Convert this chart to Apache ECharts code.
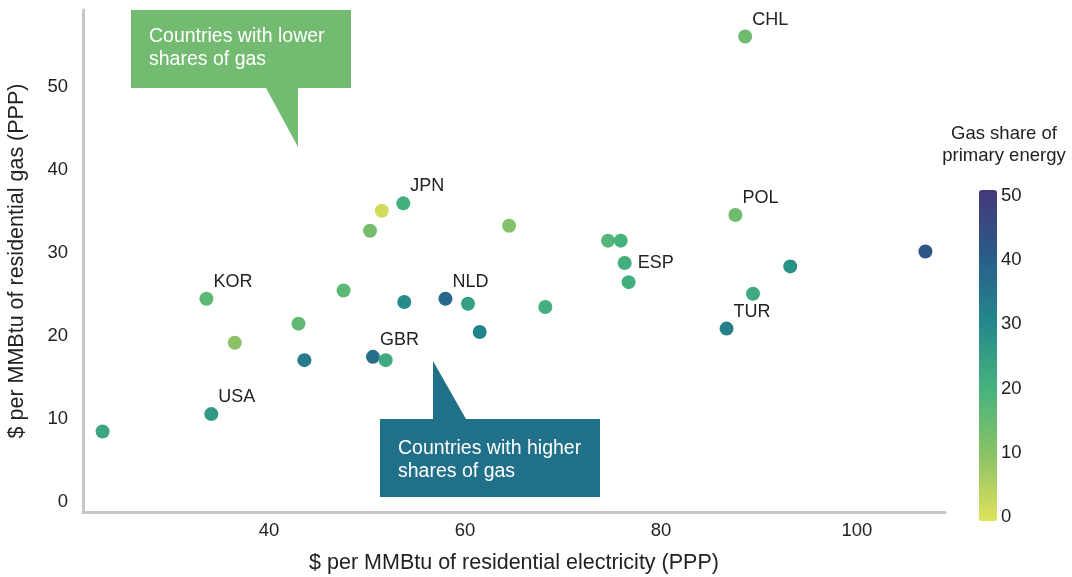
<!DOCTYPE html>
<html>
<head>
<meta charset="utf-8">
<script src="https://cdn.jsdelivr.net/npm/echarts@6/dist/echarts.min.js"></script>
<style>
  html, body { margin: 0; padding: 0; background: #fff; }
  #chart { width: 1072px; height: 577px; }
</style>
</head>
<body>
<div id="chart"></div>
<script>
// ---- Data ----
const countries = ['', 'USA', 'KOR', '', '', '', '', '', '', 'JPN', 'GBR', '', '', 'NLD', '', '', '', '', '', '', 'ESP', '', 'CHL', 'POL', 'TUR', '', '', ''];
const elecPrice = [23.0, 34.1, 33.6, 36.5, 43.0, 43.6, 47.6, 50.3, 51.5, 53.7, 50.6, 51.9, 53.8, 58.0, 60.3, 61.5, 64.5, 68.2, 74.6, 75.9, 76.3, 76.7, 88.6, 87.6, 86.7, 89.4, 93.2, 107.0];
const gasPrice  = [8.5, 10.6, 24.5, 19.2, 21.5, 17.1, 25.5, 32.7, 35.1, 36.0, 17.5, 17.1, 24.1, 24.5, 23.9, 20.5, 33.3, 23.5, 31.5, 31.5, 28.8, 26.5, 56.1, 34.6, 20.9, 25.1, 28.4, 30.2];
const gasShare  = [23, 26, 17, 10, 16, 33, 17, 13, 2, 21, 36, 22, 29, 37, 25, 31, 11, 21, 18, 20, 21, 21, 14, 14, 32, 22, 28, 42];
const xTicks = [40, 60, 80, 100];
const yTicks = [0, 10, 20, 30, 40, 50];
const shareTicks = [0, 10, 20, 30, 40, 50];

// ---- Presentation ----
const FONT = 'Liberation Sans, Arial, sans-serif';
const TXT = '#222222';
const AXIS = '#c8c8c8';
const palette = ['#e0e25a', '#8bc266', '#46b37c', '#23888b', '#295c8b', '#453878'];
const labelPlace = { ESP: 'side' };

const points = elecPrice.map((x, i) => [x, gasPrice[i], gasShare[i], countries[i]]);

const chart = echarts.init(document.getElementById('chart'), null, { renderer: 'canvas' });

chart.setOption({
  animation: false,
  backgroundColor: '#ffffff',
  textStyle: { fontFamily: FONT },
  grid: [
    { left: 83, top: 10, width: 862, height: 502, containLabel: false, outerBoundsMode: 'none' },
    { left: 979, top: 196, width: 18, height: 321, containLabel: false, outerBoundsMode: 'none' }
  ],
  xAxis: [
    {
      type: 'value', gridIndex: 0, min: 21, max: 109,
      name: '$ per MMBtu of residential electricity (PPP)',
      nameLocation: 'middle', nameGap: 40,
      nameTextStyle: { fontSize: 21.5, color: TXT, fontFamily: FONT },
      axisLine: { show: true, onZero: false, lineStyle: { color: AXIS, width: 3 } },
      axisTick: { show: false },
      splitLine: { show: false },
      axisLabel: { customValues: xTicks, fontSize: 18.5, color: TXT, margin: 9, fontFamily: FONT }
    },
    { type: 'value', gridIndex: 1, min: 0, max: 1, show: false }
  ],
  yAxis: [
    {
      type: 'value', gridIndex: 0, min: -1.2, max: 59.3,
      name: '$ per MMBtu of residential gas (PPP)',
      nameLocation: 'middle', nameGap: 55,
      nameTextStyle: { fontSize: 21.5, color: TXT, fontFamily: FONT },
      axisLine: { show: true, onZero: false, lineStyle: { color: AXIS, width: 3 } },
      axisTick: { show: false },
      splitLine: { show: false },
      axisLabel: { customValues: yTicks, fontSize: 18.5, color: TXT, margin: 15, fontFamily: FONT }
    },
    {
      type: 'value', gridIndex: 1, min: 0, max: 50, position: 'right',
      axisLine: { show: false }, axisTick: { show: false }, splitLine: { show: false },
      axisLabel: { customValues: shareTicks, fontSize: 18.5, color: TXT, margin: 4, fontFamily: FONT }
    }
  ],
  visualMap: {
    type: 'continuous', min: 0, max: 50, dimension: 2, seriesIndex: 0,
    left: 979, top: 190, itemWidth: 18, itemHeight: 331, padding: 0,
    calculable: false, orient: 'vertical', hoverLink: false,
    inRange: { color: palette }
  },
  series: [
    {
      type: 'scatter', xAxisIndex: 0, yAxisIndex: 0,
      symbolSize: 14,
      data: points.map(p => {
        if (labelPlace[p[3]] === 'side') {
          return { value: p, label: { position: 'right', distance: 6, offset: [0, 0] } };
        }
        return { value: p };
      }),
      itemStyle: { opacity: 1 },
      label: {
        show: true,
        formatter: p => p.value[3],
        fontSize: 18, color: TXT, fontFamily: FONT,
        position: 'right', distance: 0, offset: [0, -17]
      }
    },
    {
      type: 'scatter', xAxisIndex: 1, yAxisIndex: 1, data: [], silent: true
    }
  ],
  graphic: [
    {
      type: 'polygon', silent: true,
      shape: { points: [[131, 10], [351, 10], [351, 88], [298, 88], [298, 147], [266, 88], [131, 88]] },
      style: { fill: '#74bb72' }
    },
    {
      type: 'text', silent: true, x: 149, y: 25,
      style: { text: 'Countries with lower\nshares of gas', fill: '#ffffff', font: '19.5px ' + FONT, lineHeight: 23 }
    },
    {
      type: 'polygon', silent: true,
      shape: { points: [[380, 419], [433, 419], [433, 361], [466, 419], [600, 419], [600, 497], [380, 497]] },
      style: { fill: '#217089' }
    },
    {
      type: 'text', silent: true, x: 398, y: 437,
      style: { text: 'Countries with higher\nshares of gas', fill: '#ffffff', font: '19.5px ' + FONT, lineHeight: 23 }
    },
    {
      type: 'text', silent: true, x: 1004, y: 123,
      style: { text: 'Gas share of\nprimary energy', fill: TXT, font: '18.5px ' + FONT, lineHeight: 22, align: 'center', textAlign: 'center' }
    }
  ]
});
</script>
</body>
</html>
